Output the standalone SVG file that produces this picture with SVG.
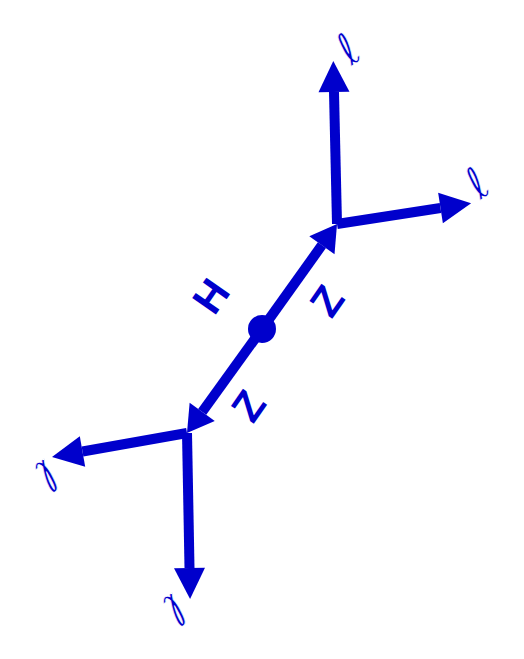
<svg xmlns="http://www.w3.org/2000/svg" width="524" height="659" viewBox="0 0 524 659">
  <style>
    .ln { stroke: #0000cc; stroke-width: 10; fill: none; stroke-linecap: butt; }
    .lbl { fill: #0000cc; font-family: "Liberation Sans", Arial, sans-serif; font-weight: bold; font-size: 42px; text-anchor: middle; dominant-baseline: central; }
    .ell { fill: #0000cc; stroke: #ffffff; stroke-width: 0.6px; font-family: "DejaVu Sans", sans-serif; font-size: 40px; text-anchor: middle; dominant-baseline: central; }
  </style>
  <defs>
    <marker id="ah" markerUnits="userSpaceOnUse" markerWidth="31" markerHeight="31" viewBox="0 -15.5 31 31" refX="0" refY="0" orient="auto" overflow="visible">
      <path d="M0,-15.5 L31,0 L0,15.5 Z" fill="#0000cc"/>
    </marker>
    <marker id="ahc" markerUnits="userSpaceOnUse" markerWidth="26" markerHeight="31" viewBox="0 -15.5 26 31" refX="0" refY="0" orient="auto" overflow="visible">
      <path d="M0,-15.5 L26,0 L0,15.5 Z" fill="#0000cc"/>
    </marker>
  </defs>
  <rect width="524" height="659" fill="#ffffff"/>
  <g id="connectors">
    <line class="ln" x1="262" y1="329" x2="321.9" y2="245.2" marker-end="url(#ahc)"/>
    <line class="ln" x1="262" y1="329" x2="202.2" y2="411.9" marker-end="url(#ahc)"/>
    <line class="ln" x1="337" y1="224" x2="334" y2="92" marker-end="url(#ah)"/>
    <line class="ln" x1="337" y1="224" x2="440.5" y2="208" marker-end="url(#ah)"/>
    <line class="ln" x1="187" y1="433" x2="82.5" y2="451.5" marker-end="url(#ah)"/>
    <line class="ln" x1="187" y1="433" x2="189.5" y2="568" marker-end="url(#ah)"/>
  </g>
  <g id="higgs">
    <circle cx="262" cy="329" r="14" fill="#0000cc"/>
    <text class="lbl" transform="translate(211,296) rotate(-55)">H</text>
  </g>
  <g id="z-upper">
    <text class="lbl" transform="translate(327,301) rotate(-55)">Z</text>
  </g>
  <g id="z-lower">
    <text class="lbl" transform="translate(248.5,406) rotate(-55)">Z</text>
  </g>
  <g id="lepton-top">
    <text class="ell" transform="translate(348,49) rotate(-38) scale(0.95,1.12)">ℓ</text>
  </g>
  <g id="lepton-right">
    <text class="ell" transform="translate(477,183) rotate(-38) scale(0.95,1.12)">ℓ</text>
  </g>
  <g id="lepton-left">
    <text class="ell" transform="translate(47,476) rotate(142) scale(0.95,1.12)">ℓ</text>
  </g>
  <g id="lepton-bottom">
    <text class="ell" transform="translate(175,610) rotate(142) scale(0.95,1.12)">ℓ</text>
  </g>
</svg>
